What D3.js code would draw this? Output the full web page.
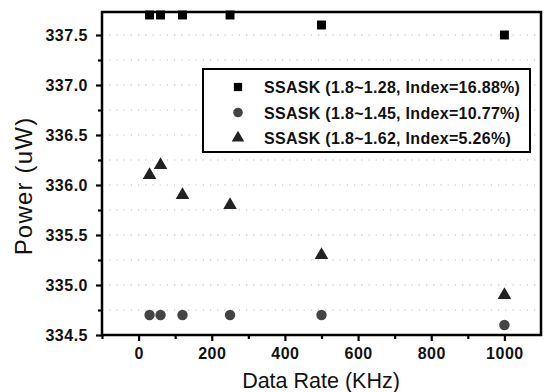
<!DOCTYPE html>
<html>
<head>
<meta charset="utf-8">
<script src="https://cdn.jsdelivr.net/npm/d3@7"></script>
<style>
  body { margin: 0; background: #fff; }
  svg { display: block; font-family: Arial, "Liberation Sans", sans-serif; }
</style>
</head>
<body>
<svg width="544" height="392"></svg>
<script>
// data
const rates = [30, 60, 120, 250, 500, 1000];
const power128 = [337.7, 337.7, 337.7, 337.7, 337.6, 337.5];
const power145 = [334.7, 334.7, 334.7, 334.7, 334.7, 334.6];
const power162 = [336.1, 336.2, 335.9, 335.8, 335.3, 334.9];
const seriesNames = [
  "SSASK (1.8~1.28, Index=16.88%)",
  "SSASK (1.8~1.45, Index=10.77%)",
  "SSASK (1.8~1.62, Index=5.26%)"
];
const xTicks = [0, 200, 400, 600, 800, 1000];
const yTicks = [334.5, 335.0, 335.5, 336.0, 336.5, 337.0, 337.5];

const svg = d3.select("svg");
const plotL = 102, plotR = 541, plotT = 12, plotB = 335;

const x = d3.scaleLinear().domain([-100, 1100]).range([plotL, plotR]);
const y = d3.scaleLinear().domain([334.5, 337.73]).range([plotB, plotT]);

const series = [
  { name: seriesNames[0], values: power128, shape: d3.symbolSquare, size: 80, color: "#000" },
  { name: seriesNames[1], values: power145, shape: d3.symbolCircle, size: 85, color: "#444" },
  { name: seriesNames[2], values: power162, shape: d3.symbolTriangle, size: 80, color: "#222" }
];

// dotted horizontal grid every 0.25
svg.append("g")
  .selectAll("line")
  .data(d3.range(334.75, 337.6, 0.25))
  .join("line")
  .attr("x1", plotL).attr("x2", plotR)
  .attr("y1", d => y(d)).attr("y2", d => y(d))
  .attr("stroke", "#bbb")
  .attr("stroke-width", 1.2)
  .attr("stroke-dasharray", "1.2,6");

// markers
series.forEach(s => {
  svg.append("g")
    .selectAll("path")
    .data(rates.map((r, i) => [r, s.values[i]]))
    .join("path")
    .attr("transform", d => `translate(${x(d[0])},${y(d[1])})`)
    .attr("d", d3.symbol().type(s.shape).size(s.size))
    .attr("fill", s.color);
});

// axes
svg.append("g")
  .attr("transform", `translate(0,${plotB})`)
  .call(d3.axisBottom(x).tickValues(xTicks).tickFormat(d3.format("d")).tickSize(6).tickSizeOuter(0).tickPadding(7));
svg.append("g")
  .attr("transform", `translate(0,${plotB})`)
  .call(d3.axisBottom(x).tickValues(d3.range(-100, 1100, 200)).tickSize(4).tickFormat("").tickSizeOuter(0));
svg.append("g")
  .attr("transform", `translate(${plotL},0)`)
  .call(d3.axisLeft(y).tickValues(yTicks).tickFormat(d3.format(".1f")).tickSize(6).tickSizeOuter(0).tickPadding(8));
svg.append("g")
  .attr("transform", `translate(${plotL},0)`)
  .call(d3.axisLeft(y).tickValues(d3.range(334.75, 337.6, 0.5)).tickSize(4).tickFormat("").tickSizeOuter(0));

svg.selectAll(".domain").remove();
svg.selectAll(".tick line").attr("stroke", "#000").attr("stroke-width", 2.2);
svg.selectAll(".tick text")
  .attr("font-size", 16).attr("font-weight", "bold")
  .attr("letter-spacing", 0.5)
  .attr("font-family", "Arial, 'Liberation Sans', sans-serif")
  .attr("fill", "#111");

// frame
svg.append("rect")
  .attr("x", plotL).attr("y", plotT)
  .attr("width", plotR - plotL).attr("height", plotB - plotT)
  .attr("fill", "none").attr("stroke", "#000").attr("stroke-width", 2.5);

// axis titles
svg.append("text")
  .attr("x", 321).attr("y", 388)
  .attr("text-anchor", "middle")
  .attr("font-size", 21.5)
  .attr("fill", "#111")
  .text("Data Rate (KHz)");
svg.append("text")
  .attr("transform", "translate(32,186) rotate(-90)")
  .attr("text-anchor", "middle")
  .attr("font-size", 24)
  .attr("letter-spacing", 1.2)
  .attr("fill", "#111")
  .text("Power (uW)");

// legend
const legend = svg.append("g");
legend.append("rect")
  .attr("x", 203).attr("y", 69).attr("width", 327).attr("height", 83)
  .attr("fill", "#fff").attr("stroke", "#000").attr("stroke-width", 2);
series.forEach((s, i) => {
  const ly = 87 + i * 25.5;
  legend.append("path")
    .attr("transform", `translate(238,${ly})`)
    .attr("d", d3.symbol().type(s.shape).size(s.size * 0.85))
    .attr("fill", s.color);
  legend.append("text")
    .attr("x", 264).attr("y", ly + 6)
    .attr("font-size", 16).attr("font-weight", "bold")
    .attr("letter-spacing", 0.3)
    .attr("fill", "#111")
    .text(s.name);
});
</script>
</body>
</html>
